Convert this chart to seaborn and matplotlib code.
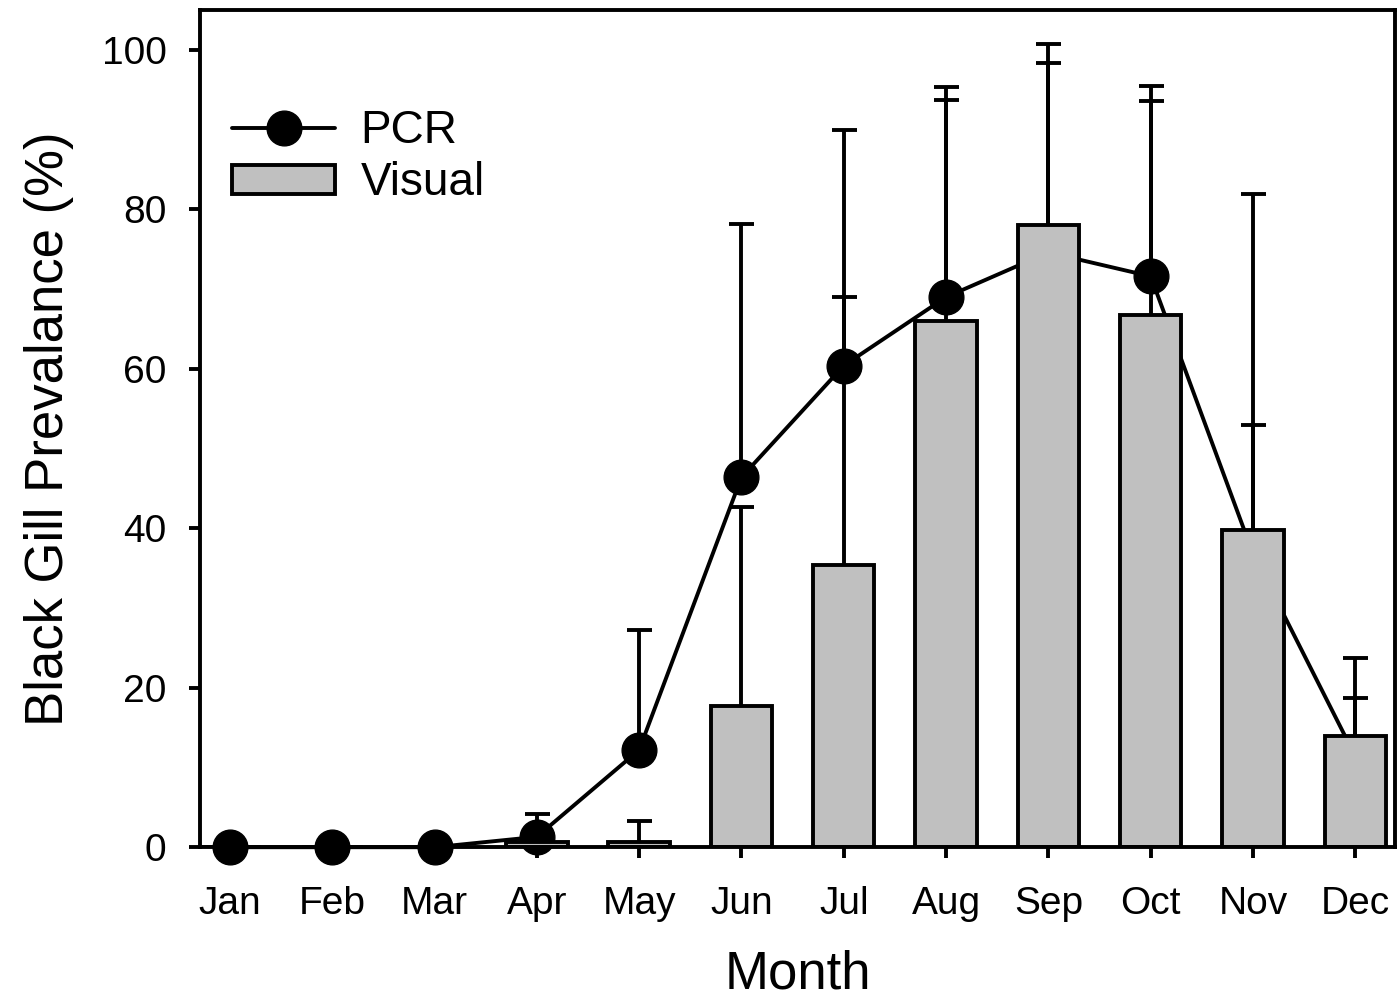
import numpy as np
import pandas as pd
import matplotlib
matplotlib.use("Agg")
import matplotlib.pyplot as plt
import seaborn as sns
from matplotlib.lines import Line2D
from matplotlib.patches import Patch

# data
months = ["Jan", "Feb", "Mar", "Apr", "May", "Jun",
          "Jul", "Aug", "Sep", "Oct", "Nov", "Dec"]
pcr = [0, 0, 0, 1.3, 12.2, 46.4, 60.4, 69.0, 74.6, 71.6, 36.8, 11.4]
pcr_err = [0, 0, 0, 2.9, 15.0, 31.8, 29.6, 24.7, 26.1, 22.0, 16.1, 7.3]
visual = [0, 0, 0, 0.7, 0.7, 17.7, 35.4, 66.0, 78.0, 66.7, 39.8, 13.9]
visual_err = [0, 0, 0, 0, 2.6, 25.0, 33.6, 29.4, 20.3, 28.8, 42.1, 9.8]

df = pd.DataFrame({"Month": months, "PCR": pcr, "Visual": visual})

sns.set_style("ticks", {"axes.edgecolor": "black", "text.color": "black",
                        "xtick.color": "black", "ytick.color": "black",
                        "axes.labelcolor": "black"})
plt.rcParams["font.family"] = ["Liberation Sans", "DejaVu Sans"]

LW = 2.8
fig = plt.figure(figsize=(13.98, 10.05), dpi=100)
ax = fig.add_axes([0.143, 0.157, 0.855, 0.833])

pos = np.arange(len(months))


def upper_errorbars(y, err, z):
    y = np.asarray(y, float)
    err = np.asarray(err, float)
    keep = err > 0
    _, caps, _ = ax.errorbar(pos[keep], y[keep],
                             yerr=[np.zeros(keep.sum()), err[keep]],
                             fmt="none", ecolor="black", elinewidth=LW,
                             capsize=9, capthick=LW, zorder=z)
    caps[0].set_visible(False)  # drop the lower caps


upper_errorbars(pcr, pcr_err, 1.0)
upper_errorbars(visual, visual_err, 1.0)

# PCR line sits under the bars
ax.plot(pos, df["PCR"], color="black", lw=LW, marker="o",
        markersize=25, zorder=2, clip_on=False)

sns.barplot(data=df, x="Month", y="Visual", order=months, color="#c0c0c0",
            width=0.6, edgecolor="black", linewidth=LW, saturation=1,
            ax=ax, zorder=3)

ax.set_xlim(-0.293, 11.39)
ax.set_ylim(0, 105)
ax.set_yticks([0, 20, 40, 60, 80, 100])

for s in ax.spines.values():
    s.set_linewidth(LW)
    s.set_visible(True)
    s.set_zorder(4)

ax.tick_params(axis="both", direction="out", length=8, width=LW,
               labelsize=28, colors="black")
ax.tick_params(axis="y", pad=16)
ax.tick_params(axis="x", pad=20)

ax.set_xlabel("Month", fontsize=38, labelpad=20)
ax.set_ylabel("Black Gill Prevalance (%)", fontsize=38, labelpad=20)

handles = [
    Line2D([], [], color="black", lw=LW, marker="o", markersize=25),
    Patch(facecolor="#c0c0c0", edgecolor="black", linewidth=LW),
]
ax.legend(handles, ["PCR", "Visual"], loc="upper left", frameon=False,
          fontsize=33, handlelength=2.25, handleheight=0.6,
          labelspacing=0.18, handletextpad=0.55, borderaxespad=0.3,
          bbox_to_anchor=(0.0, 0.92))

fig.savefig("out.png", dpi=100)
